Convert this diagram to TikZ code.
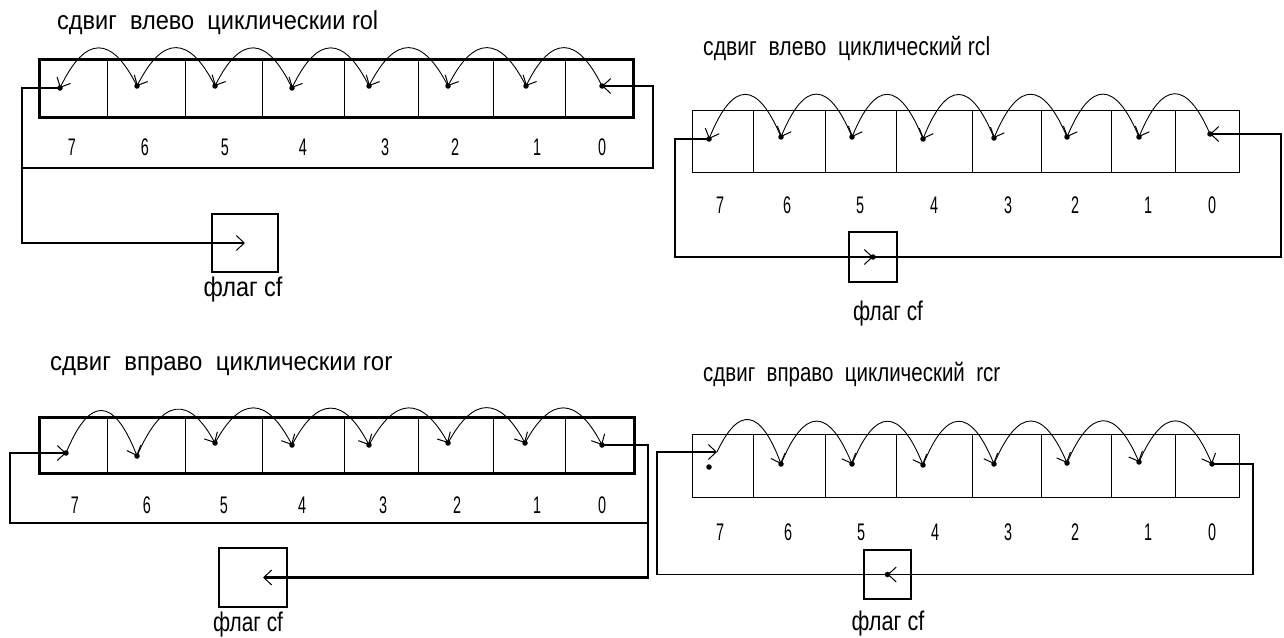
\documentclass[tikz,border=0pt]{standalone}
\usepackage{fontspec}
\setmainfont{Liberation Sans}
\usetikzlibrary{arrows.meta,calc}
\newcommand\hopto[3]{%
  \draw[hopline] let \p1=(#1),\p2=(#2),\p3=(#3) in (#1) .. controls ({\x1+0.33*(\x2-\x1)},\y3) and ({\x2+0.33*(\x1-\x2)},\y3) .. (#2);}
\tikzset{
  thk/.style={line width=2.8pt},
  thn/.style={line width=1.1pt},
  hopline/.style={line width=0.9pt,-{Straight Barb[length=8pt,width=15pt,line width=1pt]}},
  fb/.style={-{Straight Barb[length=8pt,width=15pt,line width=1pt]}},
  dotc/.style={circle,fill,inner sep=0pt,minimum size=5.5pt},
  cellbox/.style={draw,line width=1pt,inner sep=0pt},
  num/.style={anchor=base,inner sep=0pt,font=\fontsize{24}{24}\selectfont},
  ttl/.style={anchor=base west,inner sep=0pt,font=\fontsize{26}{26}\selectfont},
  lbl/.style={anchor=base,inner sep=0pt,font=\fontsize{27}{27}\selectfont},
}
\begin{document}
\begin{tikzpicture}[x=1pt,y=-1pt]
\fill[white] (0,0) rectangle (1284,637);
\useasboundingbox (0,0) rectangle (1284,637);

% ================= top-left: rol =================
\node[ttl] (tlt) at (57,29) {\resizebox{321pt}{\height}{сдвиг\ \ влево\ \ циклическии rol}};
\foreach \a/\b/\n in {40/107/7,107/185/6,185/262/5,262/344/4,344/418/3,418/493/2,493/565/1,565/633/0}
  \node[cellbox,minimum width={\b-\a},minimum height=57] (tlc\n) at ({(\a+\b)/2},88.5) {};
\draw[thk] (tlc7.north west) rectangle (tlc0.south east);
\foreach \x/\n in {72/7,145/6,225/5,303/4,385/3,455/2,537/1,602/0}
  \node[num] (tln\n) at (\x,155) {\scalebox{0.6}[1]{\n}};
\node[draw,thk,minimum width=66,minimum height=58] (tlcf) at (245,243) {};
\node[lbl] (tlcfl) at (243,296) {\resizebox{79pt}{\height}{флаг cf}};
\coordinate (tl7) at (60,88);
\coordinate (tl6) at (137,86);
\coordinate (tl5) at (215,86);
\coordinate (tl4) at (292,88);
\coordinate (tl3) at (369,86);
\coordinate (tl2) at (448,86);
\coordinate (tl1) at (526,86);
\coordinate (tl0) at (602,86);
\coordinate (tlpk) at (0,35);
\coordinate (tlL) at (22,168);
\coordinate (tlR) at (653,168);
\draw[thk,fb] (tl7) -| (tlL) |- (tlcf.center);
\draw[thk,fb] (tlL) -- (tlR) |- (tl0);
\foreach \i in {0,...,7} \node[dotc] (tld\i) at (tl\i) {};
\foreach \i [evaluate=\i as \j using int(\i+1)] in {0,...,6} \hopto{tl\i}{tl\j}{tlpk};

% ================= top-right: rcl =================
\node[ttl] (trt) at (703,55) {\resizebox{287pt}{\height}{сдвиг\ \ влево\ \ циклический rcl}};
\foreach \a/\b/\n in {692/753/7,753/825/6,825/896/5,896/972/4,972/1041/3,1041/1111/2,1111/1175/1,1175/1239/0}
  \node[cellbox,minimum width={\b-\a},minimum height=62] (trc\n) at ({(\a+\b)/2},141) {};
\foreach \x/\n in {720/7,787/6,860/5,934/4,1008/3,1075/2,1148/1,1212/0}
  \node[num] (trn\n) at (\x,213) {\scalebox{0.6}[1]{\n}};
\node[draw,thn,minimum width=48,minimum height=50] (trcf) at (873,257) {};
\node[lbl] (trcfl) at (888,320) {\resizebox{70pt}{\height}{флаг cf}};
\coordinate (tr7) at (709,139);
\coordinate (tr6) at (781,137);
\coordinate (tr5) at (852,137);
\coordinate (tr4) at (923,139);
\coordinate (tr3) at (994,138);
\coordinate (tr2) at (1067,137);
\coordinate (tr1) at (1139,137);
\coordinate (tr0) at (1210,134);
\coordinate (trpk) at (0,80);
\coordinate (trL) at (675,257);
\coordinate (trR) at (1281,257);
\draw[thn,fb] (tr7) -| (trL) -- (trcf.center);
\draw[thn,fb] (trcf.center) -- (trR) |- (tr0);
\foreach \i in {0,...,7} \node[dotc] (trd\i) at (tr\i) {};
\node[dotc] (trcfd) at (trcf.center) {};
\foreach \i [evaluate=\i as \j using int(\i+1)] in {0,...,6} \hopto{tr\i}{tr\j}{trpk};

% ================= bottom-left: ror =================
\node[ttl] (blt) at (50,370) {\resizebox{342pt}{\height}{сдвиг\ \ вправо\ \ циклическии ror}};
\foreach \a/\b/\n in {40/107/7,107/185/6,185/262/5,262/344/4,344/418/3,418/493/2,493/565/1,565/634/0}
  \node[cellbox,minimum width={\b-\a},minimum height=55] (blc\n) at ({(\a+\b)/2},445.5) {};
\draw[thk] (blc7.north west) rectangle (blc0.south east);
\foreach \x/\n in {75/7,147/6,224/5,302/4,383/3,457/2,537/1,602/0}
  \node[num] (bln\n) at (\x,513) {\scalebox{0.6}[1]{\n}};
\node[draw,thk,minimum width=68,minimum height=59] (blcf) at (253,577.5) {};
\node[lbl] (blcfl) at (248,631) {\resizebox{70pt}{\height}{флаг cf}};
\coordinate (bl7) at (66,453);
\coordinate (bl6) at (137,456);
\coordinate (bl5) at (215,443);
\coordinate (bl4) at (292,445);
\coordinate (bl3) at (369,445);
\coordinate (bl2) at (448,443);
\coordinate (bl1) at (525,443);
\coordinate (bl0) at (602,445);
\coordinate (blpk) at (0,396);
\coordinate (blL) at (10,523);
\coordinate (blR) at (648,523);
\coordinate (blcftip) at ($(blcf.center)+(10,0)$);
\draw[thk,fb] (bl0) -| (blR) |- (blcftip);
\draw[thk,fb] (blR) -- (blL) |- (bl7);
\foreach \i in {0,...,7} \node[dotc] (bld\i) at (bl\i) {};
\foreach \i [evaluate=\i as \j using int(\i-1)] in {1,...,7} \hopto{bl\i}{bl\j}{blpk};

% ================= bottom-right: rcr =================
\node[ttl] (brt) at (703,381) {\resizebox{297pt}{\height}{сдвиг\ \ вправо\ \ циклический\ \ rcr}};
\foreach \a/\b/\n in {692/753/7,753/825/6,825/896/5,896/972/4,972/1041/3,1041/1111/2,1111/1175/1,1175/1239/0}
  \node[cellbox,minimum width={\b-\a},minimum height=63] (brc\n) at ({(\a+\b)/2},465.5) {};
\foreach \x/\n in {720/7,788/6,861/5,935/4,1008/3,1075/2,1148/1,1212/0}
  \node[num] (brn\n) at (\x,540) {\scalebox{0.6}[1]{\n}};
\node[draw,thn,minimum width=47,minimum height=49] (brcf) at (887.5,574.5) {};
\node[lbl] (brcfl) at (888,630) {\resizebox{73pt}{\height}{флаг cf}};
\coordinate (br7) at (717,452);
\coordinate (br7x) at (709,467);
\coordinate (br6) at (781,464);
\coordinate (br5) at (852,464);
\coordinate (br4) at (923,465);
\coordinate (br3) at (994,464);
\coordinate (br2) at (1067,463);
\coordinate (br1) at (1139,462);
\coordinate (br0) at (1212,464);
\coordinate (brpk) at (0,407);
\coordinate (brL) at (657,574.5);
\coordinate (brR) at (1253,574.5);
\draw[thn,fb] (br0) -| (brR) -- (brcf.center);
\draw[thn,fb] (brcf.center) -- (brL) |- (br7);
\foreach \i in {0,...,6} \node[dotc] (brd\i) at (br\i) {};
\node[dotc] (brd7x) at (br7x) {};
\node[dotc] (brcfd) at (brcf.center) {};
\foreach \i [evaluate=\i as \j using int(\i-1)] in {1,...,7} \hopto{br\i}{br\j}{brpk};
\end{tikzpicture}
\end{document}
